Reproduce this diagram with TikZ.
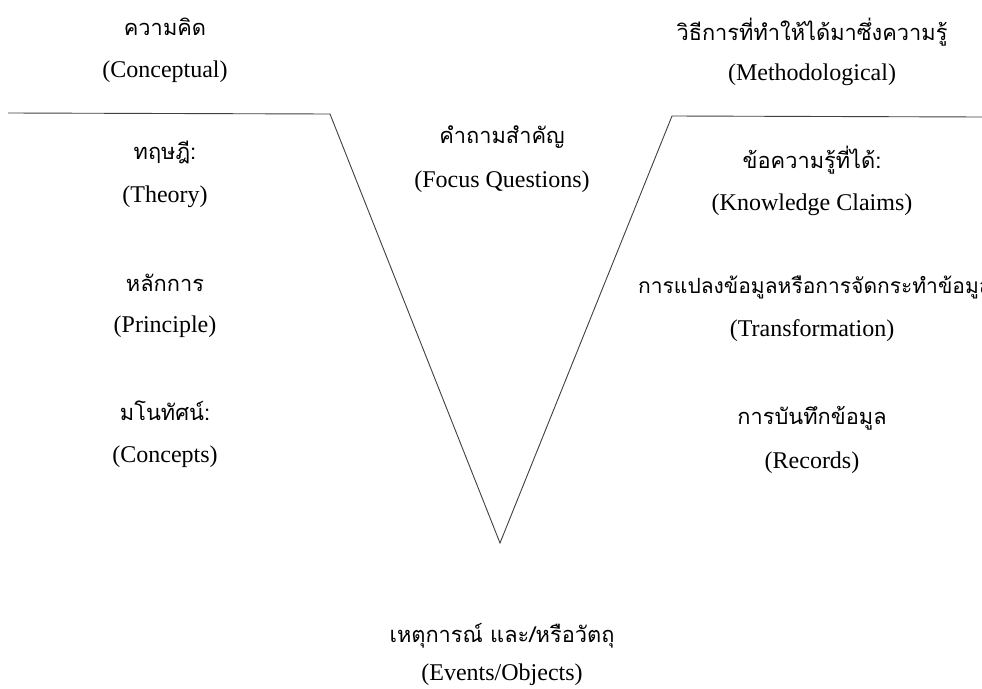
\documentclass[tikz,border=0pt]{standalone}
\usepackage{fontspec}
\setmainfont{Liberation Serif}
\newfontfamily\thaifont[Script=Thai]{Loma}
\begin{document}
\begin{tikzpicture}[x=1pt,y=-1pt,
  th/.style={font=\thaifont\fontsize{21.8}{26}\selectfont, inner sep=0pt},
  en/.style={font=\fontsize{24}{28}\selectfont, inner sep=0pt},
  vline/.style={draw=black!75, line width=0.9pt}]
\useasboundingbox[fill=white] (0,0) rectangle (982,688);
% V shape
\coordinate (ltl) at (8,113);
\coordinate (ltr) at (330,114);
\coordinate (bot) at (500,543);
\coordinate (rtl) at (672,116);
\coordinate (rtr) at (982,117);
\draw[vline] (ltl) -- (ltr) -- (bot) -- (rtl) -- (rtr);
% left
\node[th] (concth) at (165,27) {ความคิด};
\node[en] (conc) at (165,72) {(Conceptual)};
\node[th] (theoth) at (165,152) {ทฤษฎี:};
\node[en] (theo) at (165,197) {(Theory)};
\node[th] (printh) at (165,283) {หลักการ};
\node[en] (prin) at (165,327) {(Principle)};
\node[th] (concpth) at (165,411) {มโนทัศน์:};
\node[en] (concp) at (165,457) {(Concepts)};
% centre
\node[th] (focth) at (502,137) {คำถามสำคัญ};
\node[en] (foc) at (502,182) {(Focus Questions)};
\node[th] (evth) at (502,636) {เหตุการณ์ และ/หรือวัตถุ};
\node[en] (ev) at (502,675) {(Events/Objects)};
% right
\node[th] (methth) at (812,32) {วิธีการที่ทำให้ได้มาซึ่งความรู้};
\node[en] (meth) at (812,75) {(Methodological)};
\node[th] (kcth) at (812,160) {ข้อความรู้ที่ได้:};
\node[en] (kc) at (812,205) {(Knowledge Claims)};
\node[th, font=\thaifont\fontsize{21}{25}\selectfont, anchor=west] (trth) at (638,287) {การแปลงข้อมูลหรือการจัดกระทำข้อมูล};
\node[en] (tr) at (812,331) {(Transformation)};
\node[th] (recth) at (812,418) {การบันทึกข้อมูล};
\node[en] (rec) at (812,463) {(Records)};
\end{tikzpicture}
\end{document}
